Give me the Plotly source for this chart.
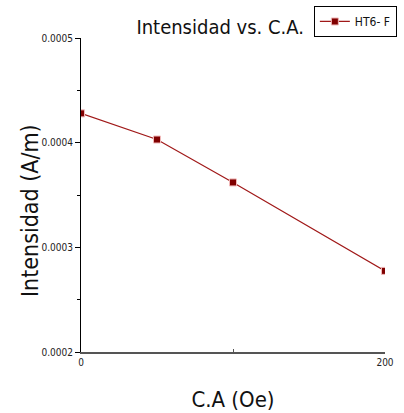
import plotly.graph_objects as go

ca = [0, 50, 100, 200]
intensidad = [0.000428, 0.000403, 0.000362, 0.0002775]
series_name = "HT6- F"
x_ticks = [0, 200]
y_ticks = [0.0002, 0.0003, 0.0004, 0.0005]
y_tick_labels = ["0.0002", "0.0003", "0.0004", "0.0005"]

FONT = "DejaVu Sans Condensed, Liberation Sans Narrow, Liberation Sans, Arial, sans-serif"

fig = go.Figure()
fig.add_trace(go.Scatter(
    x=ca, y=intensidad, mode="lines+markers", name=series_name,
    line=dict(color="#a01818", width=1.2),
    marker=dict(symbol="square", size=7, color="#800000",
                line=dict(color="#f0b8b8", width=1)),
    cliponaxis=True,
))

fig.add_annotation(text="Intensidad (A/m)", xref="paper", yref="paper",
                   x=-0.168, y=0.452, xanchor="center", yanchor="middle",
                   textangle=-90, showarrow=False,
                   font=dict(size=23, family=FONT, color="#111"))

fig.update_layout(
    width=404, height=413,
    margin=dict(l=81, r=19, t=38, b=61, autoexpand=False),
    paper_bgcolor="white", plot_bgcolor="white",
    font=dict(family=FONT, color="#222"),
    title=dict(text="Intensidad vs. C.A.", x=0.545, xanchor="center",
               y=0.935, yanchor="middle",
               font=dict(size=20, family=FONT, color="#111")),
    showlegend=True,
    legend=dict(x=0.766, y=1.102, xanchor="left", yanchor="top",
                bordercolor="#000", borderwidth=1, bgcolor="white",
                font=dict(size=12, family=FONT, color="#111"),
                itemwidth=30, tracegroupgap=0),
    xaxis=dict(range=[0, 200], tickvals=x_ticks, ticktext=[str(v) for v in x_ticks],
               showgrid=False, zeroline=False, showline=True, linecolor="#555",
               linewidth=1.5, ticks="inside", ticklen=5, tickcolor="#555",
               minor=dict(tickvals=[100], ticks="inside", ticklen=3, tickcolor="#555"),
               tickfont=dict(size=10, family=FONT, color="#222"),
               title=dict(text="C.A (Oe)", font=dict(size=22, family=FONT, color="#111"),
                          standoff=25)),
    yaxis=dict(range=[0.0002, 0.0005], tickvals=y_ticks, ticktext=y_tick_labels,
               showgrid=False, zeroline=False, showline=True, linecolor="#000",
               linewidth=1, ticks="outside", ticklen=5, tickcolor="#000",
               minor=dict(tickvals=[0.00025, 0.00035, 0.00045], ticks="outside",
                          ticklen=3, tickcolor="#000"),
               tickfont=dict(size=10, family=FONT, color="#222")),
)

fig.write_html("out.html", config={"displayModeBar": False},
               post_script="document.body.style.margin='0';document.body.style.padding='0';")
